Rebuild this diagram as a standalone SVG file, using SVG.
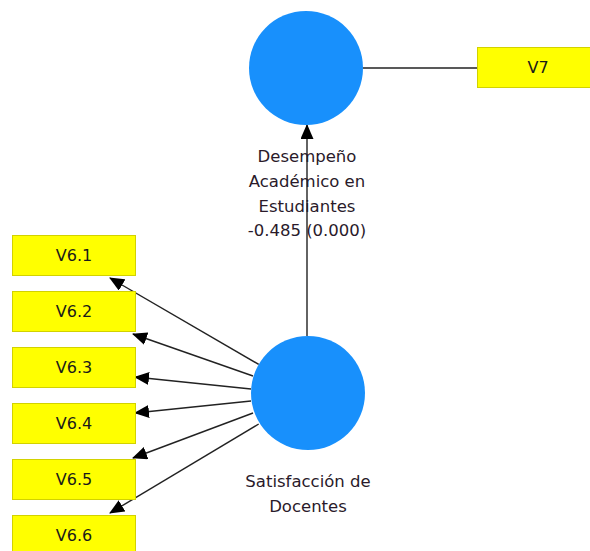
<svg xmlns="http://www.w3.org/2000/svg" width="590" height="551" viewBox="0 0 590 551">
<style>
.box{fill:#ffff00;stroke:#d2d200;stroke-width:1}
.lv{fill:#1890fc}
.bt{font-family:"DejaVu Sans","Liberation Sans",sans-serif;font-size:16px;fill:#1a1a1a;text-anchor:middle}
.lt{font-family:"DejaVu Sans","Liberation Sans",sans-serif;font-size:16.5px;fill:#2a1a2a;text-anchor:middle}
.ed{stroke:#222;stroke-width:1.4;fill:none}
</style>
<defs>
<marker id="ah" markerUnits="userSpaceOnUse" markerWidth="15" markerHeight="13" refX="14" refY="6.5" orient="auto">
<path d="M0,0 L15,6.5 L0,13 Z" fill="#000"/>
</marker>
</defs>
<rect width="590" height="551" fill="#fff"/>
<g id="connectors">
<line class="ed" x1="363" y1="68" x2="477" y2="68"/>
<line class="ed" x1="307" y1="336" x2="307" y2="125" marker-end="url(#ah)"/>
<line class="ed" x1="258.7" y1="364.4" x2="110" y2="278" marker-end="url(#ah)"/>
<line class="ed" x1="253" y1="376" x2="133" y2="334" marker-end="url(#ah)"/>
<line class="ed" x1="251" y1="389" x2="135" y2="377" marker-end="url(#ah)"/>
<line class="ed" x1="251" y1="401" x2="135" y2="413" marker-end="url(#ah)"/>
<line class="ed" x1="253" y1="413" x2="133" y2="458" marker-end="url(#ah)"/>
<line class="ed" x1="258.7" y1="424" x2="110" y2="513" marker-end="url(#ah)"/>
</g>
<g id="desempeno">
<circle class="lv" cx="306" cy="68" r="57"/>
<text class="lt" x="307" y="162">Desempeño</text>
<text class="lt" x="307" y="187">Académico en</text>
<text class="lt" x="307" y="212">Estudiantes</text>
<text class="lt" x="307" y="236">-0.485 (0.000)</text>
</g>
<g id="satisfaccion">
<circle class="lv" cx="308" cy="393" r="57"/>
<text class="lt" x="308" y="487">Satisfacción de</text>
<text class="lt" x="308" y="512">Docentes</text>
</g>
<g id="v7"><rect class="box" x="477.5" y="47.5" width="120" height="40"/><text class="bt" x="538" y="73">V7</text></g>
<g id="v61"><rect class="box" x="12.5" y="235.5" width="123" height="40"/><text class="bt" x="74" y="261">V6.1</text></g>
<g id="v62"><rect class="box" x="12.5" y="291.5" width="123" height="40"/><text class="bt" x="74" y="317">V6.2</text></g>
<g id="v63"><rect class="box" x="12.5" y="347.5" width="123" height="40"/><text class="bt" x="74" y="373">V6.3</text></g>
<g id="v64"><rect class="box" x="12.5" y="403.5" width="123" height="40"/><text class="bt" x="74" y="429">V6.4</text></g>
<g id="v65"><rect class="box" x="12.5" y="459.5" width="123" height="40"/><text class="bt" x="74" y="485">V6.5</text></g>
<g id="v66"><rect class="box" x="12.5" y="515.5" width="123" height="40"/><text class="bt" x="74" y="541">V6.6</text></g>
</svg>
